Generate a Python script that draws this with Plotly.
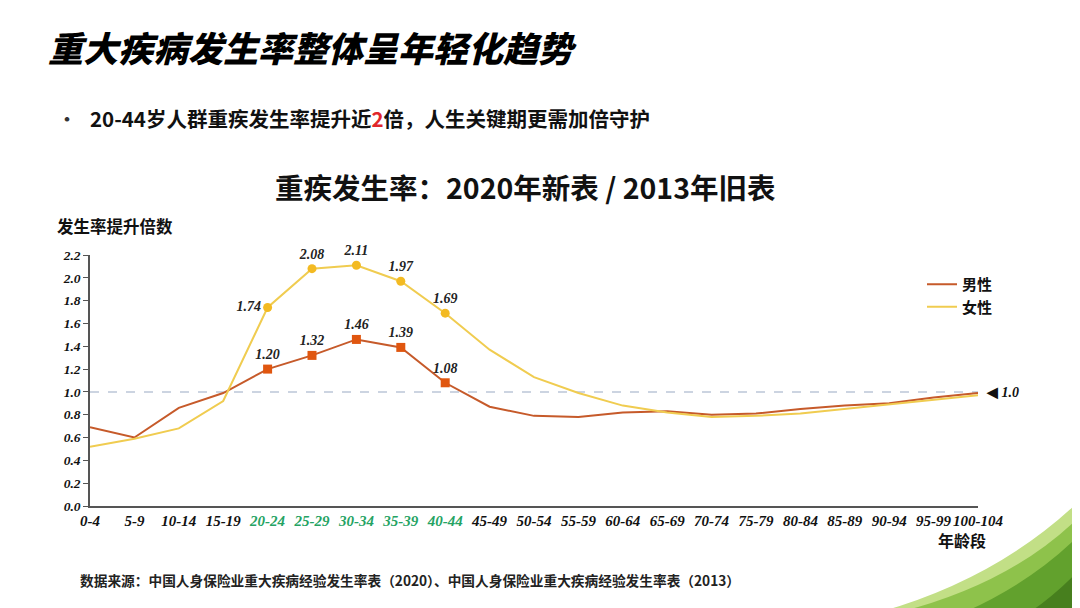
import plotly.graph_objects as go

# age groups on the x axis
ages = ["0-4", "5-9", "10-14", "15-19", "20-24", "25-29", "30-34", "35-39", "40-44",
        "45-49", "50-54", "55-59", "60-64", "65-69", "70-74", "75-79", "80-84",
        "85-89", "90-94", "95-99", "100-104"]
# ratio of incidence, 2020 table / 2013 table
male = [0.69, 0.60, 0.86, 0.99, 1.20, 1.32, 1.46, 1.39, 1.08, 0.87, 0.79, 0.78,
        0.82, 0.83, 0.80, 0.81, 0.85, 0.88, 0.90, 0.95, 0.99]
female = [0.52, 0.59, 0.68, 0.92, 1.74, 2.08, 2.11, 1.97, 1.69, 1.37, 1.13, 0.99,
          0.88, 0.82, 0.78, 0.79, 0.81, 0.85, 0.89, 0.935, 0.97]
# highlighted age groups (20-44)
hi_idx = [4, 5, 6, 7, 8]
y_ticks = [0.0, 0.2, 0.4, 0.6, 0.8, 1.0, 1.2, 1.4, 1.6, 1.8, 2.0, 2.2]

MALE_LINE = "#C65A2A"
MALE_MK = "#E0560F"
FEM_LINE = "#F0CC50"
FEM_MK = "#F3BA22"
GREEN = "#25A363"
SERIF = "Liberation Serif"
CJK = "Noto Sans CJK SC"

# plot area in reference pixels: x 90..978, y 255..506
L, R, T, B = 90, 978, 255, 506
OFF = 8  # page body margin


def px(x, y):
    return (x - L) / (R - L), (B - y) / (B - T)


x = list(range(len(ages)))
ticktext = [f"<span style='color:{GREEN}'>{a}</span>" if i in hi_idx else a
            for i, a in enumerate(ages)]

fig = go.Figure()

fig.add_trace(go.Scatter(x=x, y=male, mode="lines", name="男性",
                         line=dict(color=MALE_LINE, width=2)))
fig.add_trace(go.Scatter(x=x, y=female, mode="lines", name="女性",
                         line=dict(color=FEM_LINE, width=2)))

# markers + labels for 20-44
lab_font = dict(family=SERIF, size=14, color="#222", weight="bold", style="italic")
fig.add_trace(go.Scatter(
    x=hi_idx, y=[male[i] for i in hi_idx], mode="markers+text", showlegend=False,
    marker=dict(symbol="square", size=9, color=MALE_MK),
    text=[f"{male[i]:.2f}" for i in hi_idx], textposition="top center",
    textfont=lab_font, cliponaxis=False, hoverinfo="skip"))
fig.add_trace(go.Scatter(
    x=hi_idx, y=[female[i] for i in hi_idx], mode="markers+text", showlegend=False,
    marker=dict(symbol="circle", size=9, color=FEM_MK),
    text=[f"{female[i]:.2f}" for i in hi_idx],
    textposition=["middle left", "top center", "top center", "top center", "top center"],
    textfont=lab_font, cliponaxis=False, hoverinfo="skip"))

shapes = []
# reference line at 1.0
shapes.append(dict(type="line", xref="paper", yref="y", x0=0, x1=1.0, y0=1.0, y1=1.0,
                   line=dict(color="#BCC6D8", width=1.5, dash="dash"), layer="below"))


# green leaf decoration, bottom right
def path(points):
    s = ""
    for cmd, pts in points:
        s += cmd + " ".join(f"{a:.4f},{b:.4f}" for a, b in (px(*p) for p in pts)) + " "
    return s + "Z"


leaves = [
    ([("M", [(880, 612)]), ("Q", [(1010, 575), (1095, 485)]), ("L", [(1095, 612)])], "#C2DF86"),
    ([("M", [(900, 612)]), ("Q", [(1025, 580), (1095, 500)]), ("L", [(1095, 612)])], "#8EC24B"),
    ([("M", [(965, 612)]), ("Q", [(1045, 576), (1095, 518)]), ("L", [(1095, 612)])], "#62A12D"),
    ([("M", [(1030, 612)]), ("Q", [(1065, 588), (1095, 552)]), ("L", [(1095, 612)])], "#477F1E"),
]
for pts, col in leaves:
    shapes.append(dict(type="path", xref="paper", yref="paper", path=path(pts),
                       fillcolor=col, line=dict(width=0), layer="below"))

annotations = []


def note(text, x, y, size, family=CJK, color="#111", weight="bold", style="normal",
         xanchor="left"):
    ax, ay = px(x, y)
    annotations.append(dict(text=text, x=ax, y=ay, xref="paper", yref="paper",
                            xanchor=xanchor, yanchor="middle", showarrow=False,
                            font=dict(family=family, size=size, color=color,
                                      weight=weight, style=style)))


note("重大疾病发生率整体呈年轻化趋势", 46, 46, 35, weight=900, style="italic", color="#000")
note("·", 56, 118, 18, color="#333")
note("20-44岁人群重疾发生率提升近<span style='color:#E0262B'>2</span>倍，人生关键期更需加倍守护",
     88, 118, 20.5)
note("重疾发生率：2020年新表 / 2013年旧表", 525, 186, 28.5, xanchor="center")
note("发生率提升倍数", 55, 226, 16.5)
note("年龄段", 988, 540, 16, xanchor="right")
note("◀ <i>1.0</i>", 984, 392, 14, family=SERIF, color="#111")
note("数据来源：中国人身保险业重大疾病经验发生率表（2020）、中国人身保险业重大疾病经验发生率表（2013）",
     78, 580, 13.7, color="#222")

fig.update_layout(
    width=1080, height=608,
    margin=dict(l=L - OFF, r=1080 - (R - OFF), t=T - OFF, b=608 - (B - OFF)),
    paper_bgcolor="white", plot_bgcolor="rgba(0,0,0,0)",
    showlegend=True,
    legend=dict(x=px(922, 0)[0], y=px(0, 268)[1], xanchor="left", yanchor="top",
                bgcolor="rgba(0,0,0,0)",
                font=dict(family=CJK, size=15, color="#111", weight="bold"),
                tracegroupgap=0, itemwidth=30),
    shapes=shapes, annotations=annotations,
    xaxis=dict(range=[0, 20], tickmode="array", tickvals=x, ticktext=ticktext,
               tickangle=0,
               showgrid=False, zeroline=False, showline=True, linecolor="#555", linewidth=1.5,
               ticks="", tickfont=dict(family=SERIF, size=15, color="#111",
                                       weight="bold", style="italic")),
    yaxis=dict(range=[0, 2.2], tickmode="array", tickvals=y_ticks,
               ticktext=[f"{v:.1f}" for v in y_ticks],
               showgrid=False, zeroline=False, showline=True, linecolor="#555", linewidth=1.5,
               ticks="outside", ticklen=5, tickcolor="#555",
               tickfont=dict(family=SERIF, size=13.5, color="#111",
                             weight="bold", style="italic")),
)

fig.write_html("out.html")
